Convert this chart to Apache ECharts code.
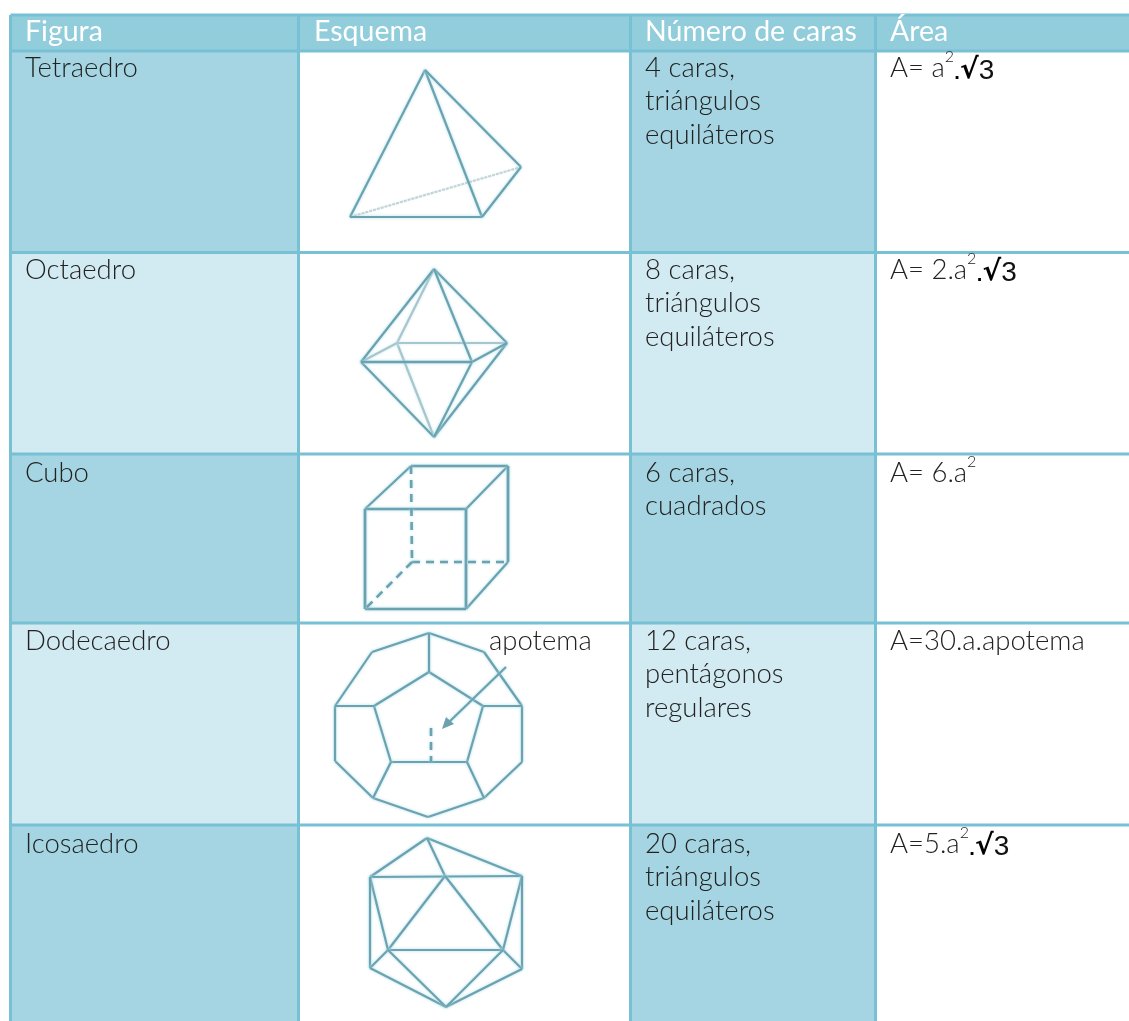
<!DOCTYPE html>
<html>
<head>
<meta charset="utf-8">
<title>Poliedros regulares</title>
<style>
  html, body { margin: 0; padding: 0; background: #fff; }
  #main { width: 1129px; height: 1021px; }
</style>
<script src="https://cdn.jsdelivr.net/npm/echarts@6/dist/echarts.min.js"></script>
</head>
<body>
<div id="main"></div>
<script>
// table structure
const headers = ['Figura', 'Esquema', 'Número de caras', 'Área'];
const figures = ['Tetraedro', 'Octaedro', 'Cubo', 'Dodecaedro', 'Icosaedro'];
const faces = [
    ['4 caras,', 'triángulos', 'equiláteros'],
    ['8 caras,', 'triángulos', 'equiláteros'],
    ['6 caras,', 'cuadrados'],
    ['12 caras,', 'pentágonos', 'regulares'],
    ['20 caras,', 'triángulos', 'equiláteros']
];
const areas = [
    'A= a{sup|2}{dot|.}{rad|√}{num|3}',
    'A= 2.a{sup|2}{dot|.}{rad|√}{num|3}',
    'A= 6.a{sup|2}',
    'A=30.a.apotema',
    'A=5.a{sup|2}{dot|.}{rad|√}{num|3}'
];

// grid lines of the table, in picture units
const colEdges = [10.5, 298.5, 630.5, 875.5, 1129];
const rowEdges = [15, 51, 252.5, 454, 623, 825, 1021];

// figure vertices
const tetra = { apex: [425, 70], left: [350, 217], mid: [482, 217], right: [521, 167] };
const octa = {
    top: [434, 269], bottom: [434, 437], left: [361, 362], front: [472, 362],
    right: [507, 343], back: [397, 343]
};
const cube = {
    ftl: [365, 509], ftr: [466, 509], fbl: [365, 609], fbr: [466, 609],
    btl: [411, 466], btr: [508, 466], bbl: [412, 562], bbr: [508, 562]
};
const dodecaOuter = [[429, 633], [484, 652], [522, 706], [522, 762], [484, 798],
    [428, 817], [373, 798], [335, 761], [335, 706], [372, 652]];
const dodecaInner = [[429, 672], [483, 706], [467, 762], [391, 762], [374, 706]];
const icosa = {
    top: [427, 838], lt: [370, 877], rt: [522, 876], c: [445, 876], ll: [388, 950],
    lr: [503, 950], lb: [370, 968], rb: [522, 969], bottom: [446, 1007]
};
const arrowHead = [[442, 729], [446, 717], [454, 724]];

// segments grouped by how they are stroked
const solidEdges = [
    [tetra.apex, tetra.left], [tetra.apex, tetra.mid], [tetra.apex, tetra.right],
    [tetra.left, tetra.mid], [tetra.mid, tetra.right],
    [octa.top, octa.left], [octa.top, octa.right], [octa.top, octa.front],
    [octa.bottom, octa.left], [octa.bottom, octa.right], [octa.bottom, octa.front],
    [octa.front, octa.right],
    [cube.ftl, cube.btl], [cube.ftr, cube.btr], [cube.fbr, cube.bbr],
    [dodecaOuter[0], dodecaOuter[1]], [dodecaOuter[1], dodecaOuter[2]], [dodecaOuter[2], dodecaOuter[3]],
    [dodecaOuter[3], dodecaOuter[4]], [dodecaOuter[4], dodecaOuter[5]], [dodecaOuter[5], dodecaOuter[6]],
    [dodecaOuter[6], dodecaOuter[7]], [dodecaOuter[7], dodecaOuter[8]], [dodecaOuter[8], dodecaOuter[9]],
    [dodecaOuter[9], dodecaOuter[0]],
    [dodecaInner[0], dodecaInner[1]], [dodecaInner[1], dodecaInner[2]], [dodecaInner[2], dodecaInner[3]],
    [dodecaInner[3], dodecaInner[4]], [dodecaInner[4], dodecaInner[0]],
    [dodecaOuter[0], dodecaInner[0]], [dodecaOuter[2], dodecaInner[1]], [dodecaOuter[4], dodecaInner[2]],
    [dodecaOuter[6], dodecaInner[3]], [dodecaOuter[8], dodecaInner[4]],
    [[506, 667], [447, 724]],
    [icosa.top, icosa.lt], [icosa.top, icosa.rt], [icosa.top, icosa.c], [icosa.lt, icosa.rt],
    [icosa.c, icosa.ll], [icosa.c, icosa.lr], [icosa.ll, icosa.lr], [icosa.lt, icosa.ll],
    [icosa.rt, icosa.lr], [icosa.lt, icosa.lb], [icosa.rt, icosa.rb], [icosa.ll, icosa.lb],
    [icosa.lr, icosa.rb], [icosa.lb, icosa.bottom], [icosa.rb, icosa.bottom],
    [icosa.ll, icosa.bottom], [icosa.lr, icosa.bottom]
];
const heavyEdges = [
    [octa.left, octa.front],
    [cube.ftl, cube.ftr], [cube.ftr, cube.fbr], [cube.fbr, cube.fbl], [cube.fbl, cube.ftl],
    [cube.btl, cube.btr], [cube.btr, cube.bbr]
];
const faintEdges = [
    [octa.top, octa.back], [octa.bottom, octa.back], [octa.back, octa.right], [octa.back, octa.left]
];
const palestEdges = [[tetra.left, tetra.right]];
const dashedEdges = [
    [cube.btl, cube.bbl], [cube.bbl, cube.bbr], [cube.bbl, cube.fbl],
    [[431, 728], [431, 762]]
];

const BORDER = '#78C0D4';
const HEADER = '#92CDDC';
const BAND1 = '#A5D5E2';
const BAND2 = '#D2EAF1';
const INK = '#222222';
const STROKE = '#6ca2b0';
const FONT = 'Lato';

// text pieces of the table
const textColX = [25, 314, 645, 890];
const headerY = 32;
const rowTextY = [68, 270, 473, 641, 844];
const lineGap = 33.5;

let texts = [];
headers.forEach((h, i) => texts.push({ x: textColX[i], y: headerY, text: h, kind: 'head' }));
figures.forEach((f, r) => {
    texts.push({ x: textColX[0], y: rowTextY[r], text: f, kind: 'body' });
    faces[r].forEach((line, k) => {
        texts.push({ x: textColX[2], y: rowTextY[r] + k * lineGap, text: line, kind: 'body' });
    });
    texts.push({ x: textColX[3], y: rowTextY[r], text: areas[r], kind: 'body' });
});
texts.push({ x: 489, y: 641, text: 'apotema', kind: 'body' });

// cells as [col, row]
let cells = [];
for (let c = 0; c < headers.length; c++) {
    for (let r = 0; r < rowEdges.length - 1; r++) {
        cells.push([c, r]);
    }
}

function cellColor(c, r) {
    if (r === 0) return HEADER;
    if (c === 1 || c === 3) return '#ffffff';
    return r % 2 === 1 ? BAND1 : BAND2;
}

function renderCell(params, api) {
    let c = api.value(0), r = api.value(1);
    let p0 = api.coord([colEdges[c], rowEdges[r]]);
    let p1 = api.coord([colEdges[c + 1], rowEdges[r + 1]]);
    return {
        type: 'rect',
        shape: { x: p0[0], y: p0[1], width: p1[0] - p0[0], height: p1[1] - p0[1] },
        style: { fill: cellColor(c, r) }
    };
}

function renderSegment(style) {
    return function (params, api) {
        let p0 = api.coord([api.value(0), api.value(1)]);
        let p1 = api.coord([api.value(2), api.value(3)]);
        return {
            type: 'line',
            shape: { x1: p0[0], y1: p0[1], x2: p1[0], y2: p1[1] },
            style: style
        };
    };
}

function toSegments(list) {
    return list.map(s => [s[0][0], s[0][1], s[1][0], s[1][1]]);
}

function customSeries(data, renderItem, z) {
    return {
        type: 'custom',
        coordinateSystem: 'cartesian2d',
        data: data,
        renderItem: renderItem,
        silent: true,
        clip: false,
        z: z
    };
}

let borderSegments = [];
colEdges.slice(0, 4).forEach(x => borderSegments.push([x, rowEdges[0], x, 1021]));
rowEdges.slice(0, 6).forEach(y => borderSegments.push([colEdges[0], y, 1129, y]));

let chart = echarts.init(document.getElementById('main'), null, { renderer: 'canvas' });

let option = {
    animation: false,
    backgroundColor: '#ffffff',
    grid: { left: 0, right: 0, top: 0, bottom: 0 },
    xAxis: { type: 'value', min: 0, max: 1129, show: false },
    yAxis: { type: 'value', min: 0, max: 1021, inverse: true, show: false },
    tooltip: { show: false },
    series: [
        customSeries(cells, renderCell, 1),
        customSeries(borderSegments, renderSegment({ stroke: BORDER, lineWidth: 3 }), 2),
        customSeries(toSegments(palestEdges), renderSegment({
            stroke: '#c3d3d7', lineWidth: 2, lineDash: [3, 1], shadowBlur: 2, shadowColor: '#dfeef1'
        }), 3),
        customSeries(toSegments(faintEdges), renderSegment({
            stroke: '#a8c6cd', lineWidth: 2.2, shadowBlur: 3, shadowColor: '#cfe9ef'
        }), 3),
        customSeries(toSegments(solidEdges), renderSegment({
            stroke: STROKE, lineWidth: 2.2, shadowBlur: 3, shadowColor: '#a9dbe6'
        }), 4),
        customSeries(toSegments(heavyEdges), renderSegment({
            stroke: STROKE, lineWidth: 2.7, shadowBlur: 3, shadowColor: '#a9dbe6'
        }), 4),
        customSeries(toSegments(dashedEdges), renderSegment({
            stroke: STROKE, lineWidth: 2.6, lineDash: [8, 6], shadowBlur: 3, shadowColor: '#a9dbe6'
        }), 4),
        customSeries([arrowHead[0].concat(arrowHead[1], arrowHead[2])], function (params, api) {
            let pts = [0, 2, 4].map(i => api.coord([api.value(i), api.value(i + 1)]));
            return { type: 'polygon', shape: { points: pts }, style: { fill: STROKE } };
        }, 4),
        customSeries(texts.map((t, i) => [t.x, t.y, i]), function (params, api) {
            let t = texts[api.value(2)];
            let p = api.coord([api.value(0), api.value(1)]);
            let head = t.kind === 'head';
            return {
                type: 'text',
                style: {
                    x: p[0],
                    y: p[1],
                    text: t.text,
                    fill: head ? '#ffffff' : INK,
                    fontFamily: FONT,
                    fontWeight: head ? 400 : 300,
                    fontSize: head ? 28.5 : 27.5,
                    verticalAlign: 'middle',
                    align: 'left',
                    rich: {
                        sup: { fontFamily: FONT, fontWeight: 300, fontSize: 16, fill: INK, verticalAlign: 'top', lineHeight: 38 },
                        dot: { fontFamily: 'DejaVu Sans', fontWeight: 'bold', fontSize: 16, fill: '#000', verticalAlign: 'bottom', lineHeight: 34, padding: [0, 0, 4, 0] },
                        rad: { fontFamily: 'DejaVu Sans', fontWeight: 'bold', fontSize: 28, fill: '#000', verticalAlign: 'bottom', lineHeight: 34, padding: [0, 0, 2, 0] },
                        num: { fontFamily: 'Liberation Sans', fontSize: 28, fill: '#111', verticalAlign: 'bottom', lineHeight: 34, padding: [0, 0, 2, 0] }
                    }
                }
            };
        }, 5)
    ]
};

chart.setOption(option);

window.onresize = () => {
    chart.resize();
};
</script>
</body>
</html>
